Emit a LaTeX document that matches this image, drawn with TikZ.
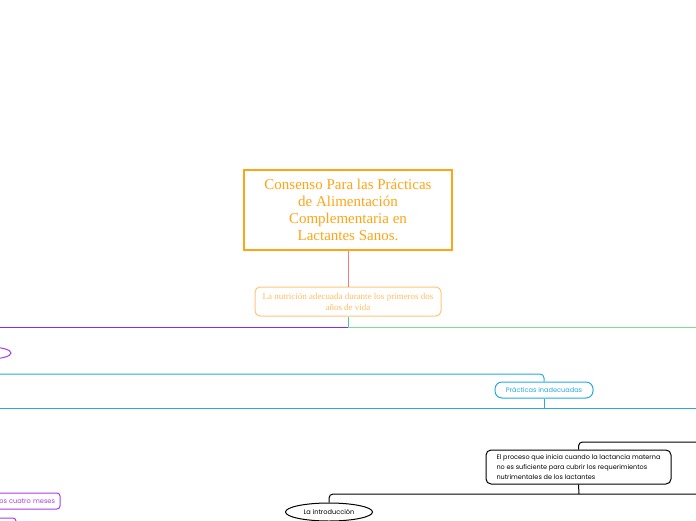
\documentclass[tikz,border=0pt]{standalone}
\usepackage{fontspec}
\setmainfont{Liberation Serif}
\newfontfamily\rnd{Poppins}
\usetikzlibrary{shapes.geometric}
\definecolor{mainor}{HTML}{FFA514}
\definecolor{lightor}{HTML}{FFC577}
\definecolor{lighttx}{HTML}{FFBE66}
\definecolor{redln}{HTML}{F57A7A}
\definecolor{purp}{HTML}{8E2BD6}
\definecolor{purpn}{HTML}{A93CF0}
\definecolor{grn}{HTML}{7FD99A}
\definecolor{teal}{HTML}{5BC0A8}
\definecolor{blu}{HTML}{27A9E6}
\tikzset{
  mainbox/.style={draw=mainor,line width=2pt,fill=white,text=mainor,align=center,font=\fontsize{15}{17}\selectfont,minimum width=208pt,minimum height=80pt,inner sep=2pt},
  subbox/.style={draw=lightor,line width=1pt,rounded corners=5pt,fill=white,text=lighttx,align=center,font=\fontsize{9}{11}\selectfont,minimum width=186pt,minimum height=29pt,inner sep=1pt},
  bluebox/.style={draw=blu,line width=1pt,rounded corners=7pt,fill=white,text=blu,font=\rnd\fontsize{6.6}{8}\selectfont,minimum width=98pt,minimum height=16pt,inner sep=1pt},
  blackbox/.style={draw=black,line width=1pt,rounded corners=5pt,fill=white,text=black,align=left,font=\rnd\fontsize{6.5}{10}\selectfont,minimum width=185pt,minimum height=34pt,inner sep=3pt},
  blackell/.style={ellipse,draw=black,line width=1pt,fill=white,text=black,font=\rnd\fontsize{6.6}{8}\selectfont,minimum width=87pt,minimum height=18pt,inner sep=1pt},
  purpbox/.style={draw=purpn,line width=1pt,rounded corners=3pt,fill=white,text=purpn,font=\rnd\fontsize{6.6}{8}\selectfont,minimum height=16pt,inner sep=2pt},
  ln/.style={line width=1pt}
}
\begin{document}
\begin{tikzpicture}[x=1pt,y=-1pt]
\useasboundingbox (0,0) rectangle (696,520);
\clip (0,0) rectangle (696,520);
\fill[white] (0,0) rectangle (696,520);
% nodes
\node[mainbox] (main) at (348,210) {Consenso Para las Prácticas\\de Alimentación\\Complementaria en\\Lactantes Sanos.};
\node[subbox] (nutr) at (348,301.5) {La nutrición adecuada durante los primeros dos\\años de vida};
\coordinate (hub) at (348,327);
\coordinate (pl) at (0,327);
\coordinate (gr) at (696,327);
\node[ellipse,draw=purpn,line width=1pt,minimum width=44pt,minimum height=12pt,inner sep=0pt] (pell) at (-11,353) {};
\coordinate (bl1) at (0,374);
\node[bluebox] (prac) at (544,390) {Prácticas inadecuadas};
\coordinate (bhub) at (544,408);
\coordinate (bl2) at (0,408);
\coordinate (br2) at (696,408);
\node[blackbox] (proc) at (578.5,467) {El proceso que inicia cuando la lactancia materna\\no es suficiente para cubrir los requerimientos\\nutrimentales de los lactantes};
\coordinate (kr1) at (696,442);
\coordinate (khub) at (579,494);
\coordinate (kr2) at (696,494);
\node[blackell] (intro) at (329,512) {La introducción};
\node[purpbox,anchor=east,minimum width=90pt,align=right,text width=80pt] (cuatro) at (60.5,501) {os cuatro meses};
\node[draw=purpn,line width=1pt,rounded corners=3pt,minimum width=50pt,minimum height=14pt] (pbot) at (-9,525) {};
% connectors
\draw[ln,redln] (main.south) -- (nutr.north);
\draw[ln,teal] (nutr.south) -- (hub);
\draw[ln,purp] (hub) -- (pl);
\draw[ln,grn] (hub) -- (gr);
\draw[ln,blu,rounded corners=4pt] (bl1) -| (prac.north);
\draw[ln,blu] (prac.south) -- (bhub);
\draw[ln,blu] (bl2) -- (br2);
\draw[ln,black,rounded corners=4pt] (proc.north) |- (kr1);
\draw[ln,black] (proc.south) -- (khub);
\draw[ln,black,rounded corners=4pt] (kr2) -| (intro.north);
\end{tikzpicture}
\end{document}
